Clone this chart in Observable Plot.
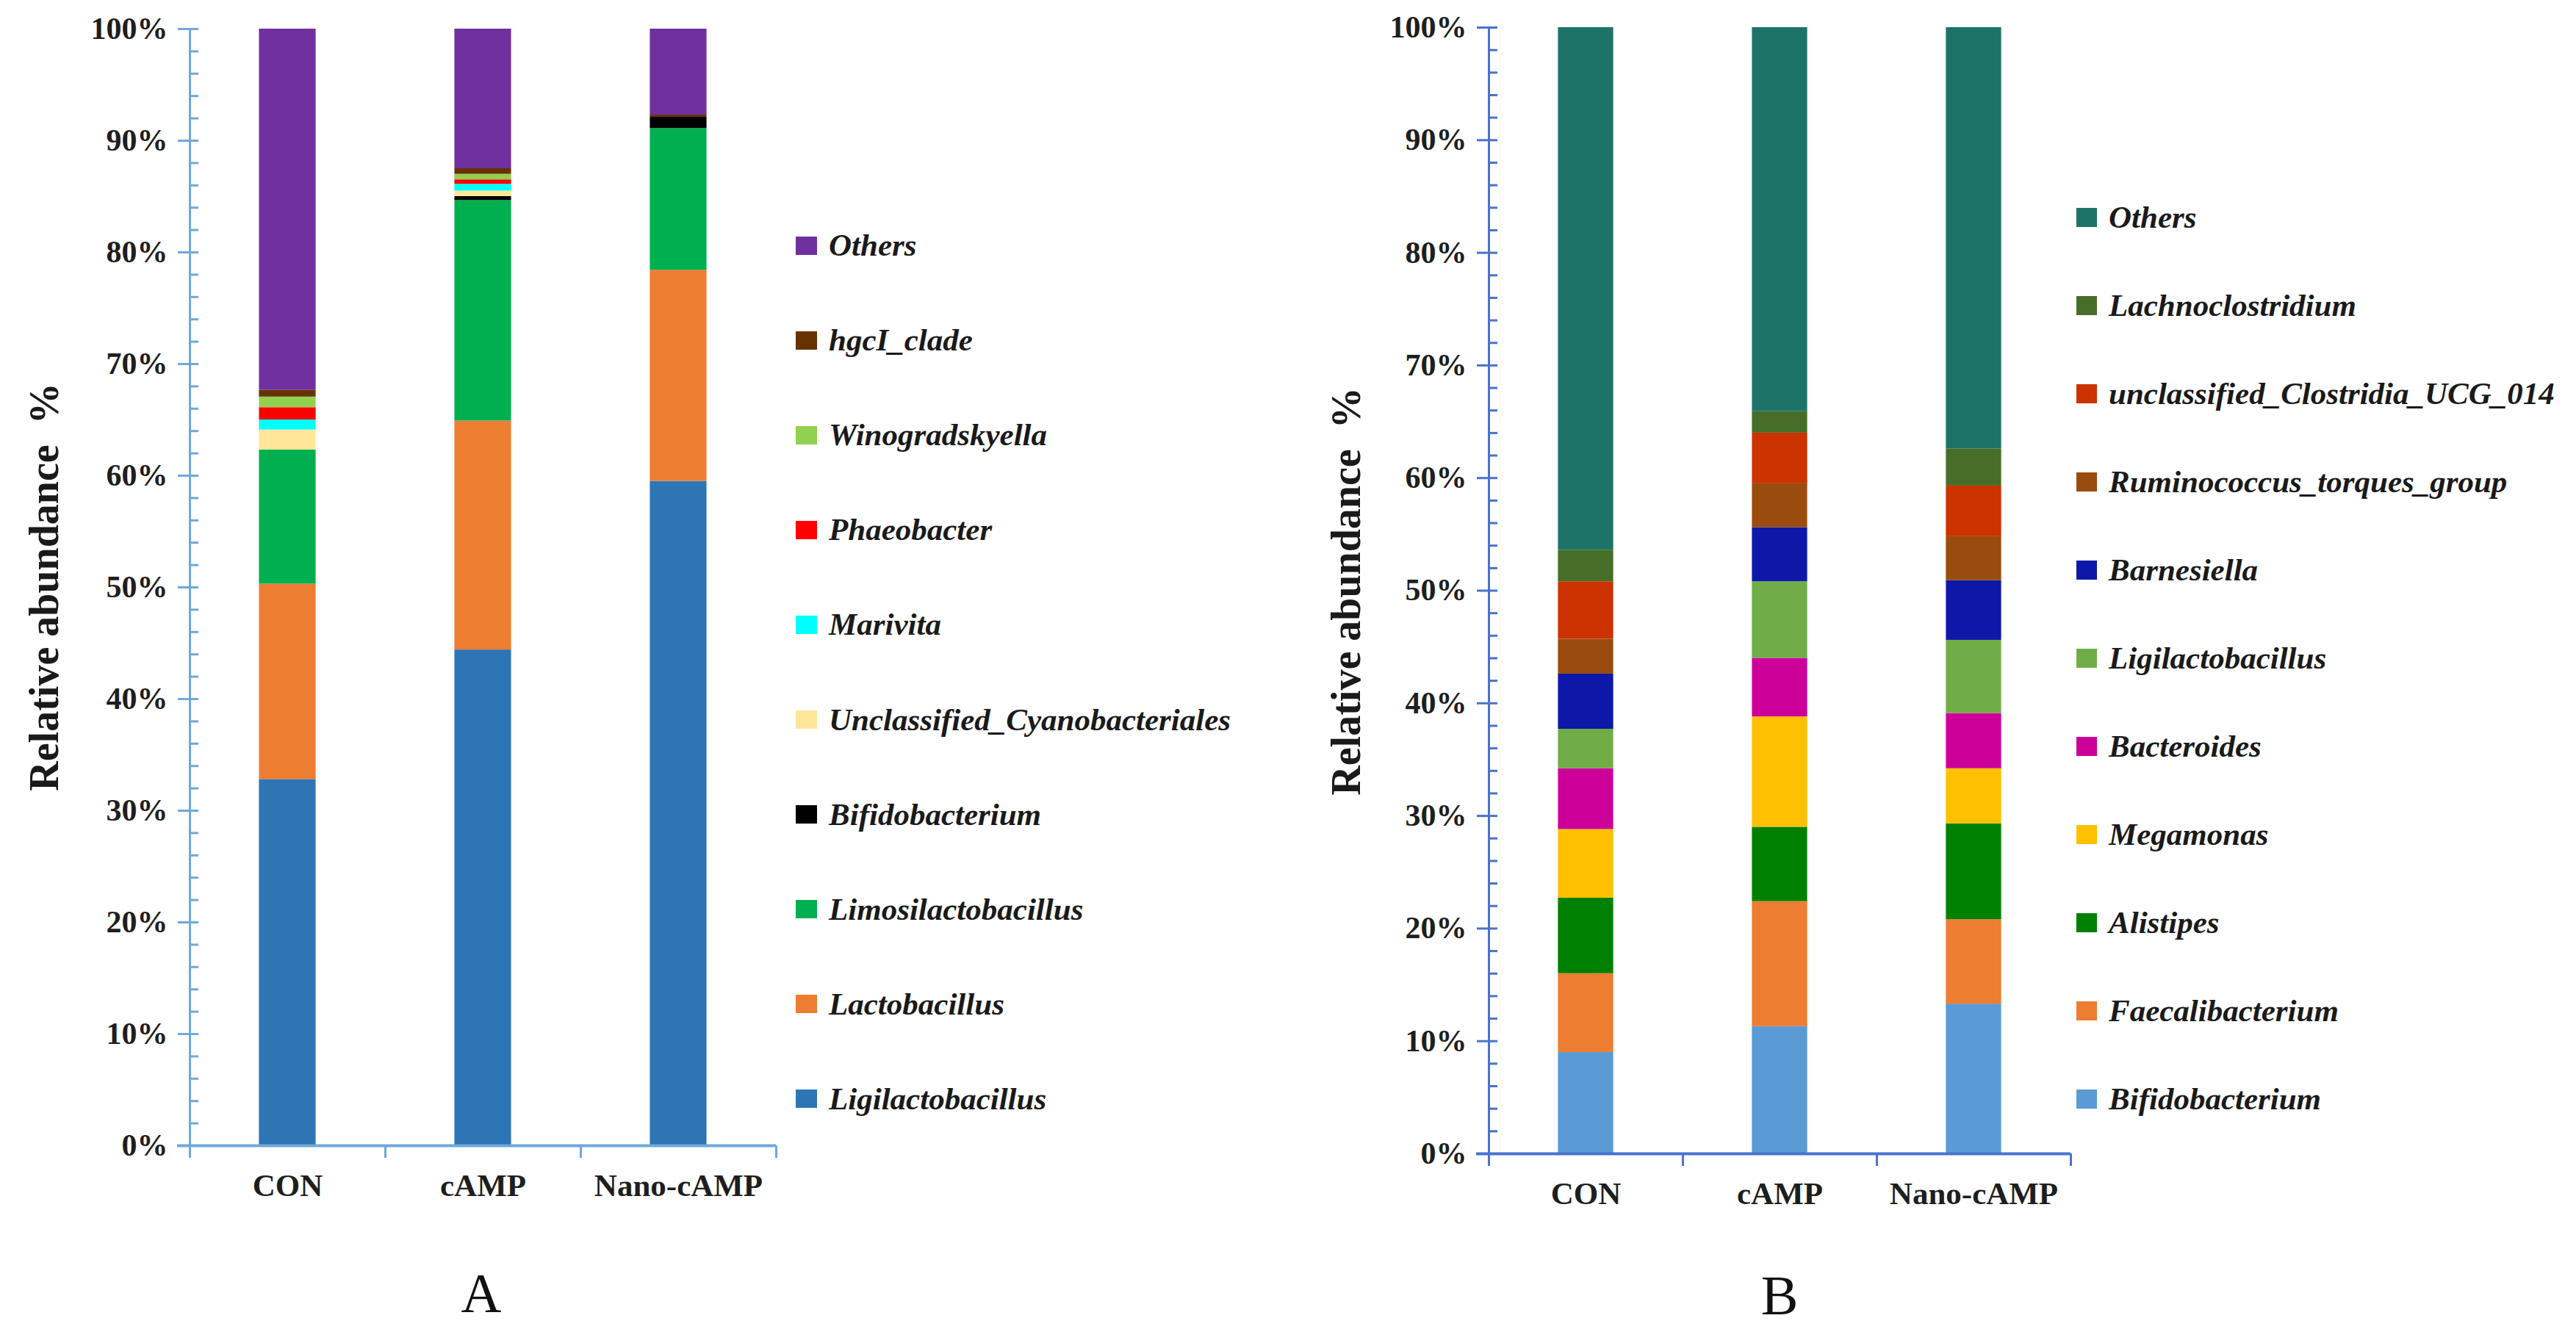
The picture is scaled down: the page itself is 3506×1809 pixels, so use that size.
<!DOCTYPE html>
<html>
<head>
<meta charset="utf-8">
<script src="https://cdn.jsdelivr.net/npm/d3@7"></script>
<script src="https://cdn.jsdelivr.net/npm/@observablehq/plot@0.6"></script>
<style>
  html, body { margin: 0; padding: 0; background: #fff; }
  body { width: 3506px; height: 1809px; position: relative; overflow: hidden; font-family: "Liberation Serif", "Times New Roman", serif; }
  .panel { position: absolute; top: 0; }
  .ytitle { position: absolute; transform: translate(-50%, -50%) rotate(-90deg); font-weight: bold; font-size: 56px; white-space: pre; color: #1a1a1a; }
  .item { position: absolute; display: flex; align-items: center; height: 60px; white-space: nowrap; }
  .item .sw { display: inline-block; }
  .item .lab { font-style: italic; font-weight: bold; font-size: 43px; color: #1a1a1a; line-height: 60px; }
  .letter { position: absolute; transform: translate(-50%, -50%); font-size: 76px; color: #111; }
</style>
</head>
<body>
<div id="A" class="panel" style="left:0px; width:1070px;"></div>
<div id="B" class="panel" style="left:1760px; width:1070px;"></div>
<script>
// ---------------- data ----------------
const groups = ["CON", "cAMP", "Nano-cAMP"];

// Panel A (stack order bottom -> top)
const generaA = ["Ligilactobacillus", "Lactobacillus", "Limosilactobacillus", "Bifidobacterium",
  "Unclassified_Cyanobacteriales", "Marivita", "Phaeobacter", "Winogradskyella", "hgcI_clade", "Others"];
const colorsA = ["#2E75B6", "#ED7D31", "#00B050", "#000000", "#FFE699", "#00FFFF", "#FF0000", "#92D050", "#663300", "#7030A0"];
const conA  = [32.8, 17.5, 12.0, 0.0, 1.8, 0.9, 1.1, 0.95, 0.6, 32.35];
const campA = [44.4, 20.5, 19.75, 0.35, 0.5, 0.6, 0.4, 0.5, 0.5, 12.5];
const nanoA = [59.5, 18.9, 12.7, 1.0, 0.0, 0.0, 0.0, 0.0, 0.2, 7.7];

// Panel B (stack order bottom -> top)
const generaB = ["Bifidobacterium", "Faecalibacterium", "Alistipes", "Megamonas", "Bacteroides",
  "Ligilactobacillus", "Barnesiella", "Ruminococcus_torques_group", "unclassified_Clostridia_UCG_014",
  "Lachnoclostridium", "Others"];
const colorsB = ["#5B9BD5", "#ED7D31", "#008000", "#FFC000", "#CC0099", "#70AD47", "#0E18A8", "#9A4B0E", "#CC3300", "#466E28", "#1E7369"];
const conB  = [9.0, 7.0, 6.7, 6.1, 5.4, 3.5, 4.9, 3.1, 5.1, 2.8, 46.4];
const campB = [11.3, 11.1, 6.6, 9.8, 5.2, 6.8, 4.8, 3.9, 4.5, 1.9, 34.1];
const nanoB = [13.3, 7.5, 8.5, 4.9, 4.9, 6.5, 5.3, 3.9, 4.5, 3.3, 37.4];

const majorTicks = [0, 10, 20, 30, 40, 50, 60, 70, 80, 90, 100];
const minorTicks = d3.range(0, 101, 2);
const yTitle = "Relative abundance  %";

// ---------------- helpers ----------------
function stackRows(genera, series) {
  const rows = [];
  series.forEach((vals, gi) => {
    let acc = 0;
    genera.forEach((g, k) => {
      rows.push({group: groups[gi], gi, genus: g, y1: acc, y2: acc + vals[k]});
      acc += vals[k];
    });
  });
  return rows;
}

function panel(o) {
  const half = o.barFrac / 2;
  return Plot.plot({
    width: o.width, height: o.height,
    marginLeft: o.marginLeft, marginRight: o.marginRight, marginTop: o.marginTop, marginBottom: o.marginBottom,
    style: {fontFamily: "'Liberation Serif', 'Times New Roman', serif", background: "transparent", overflow: "visible", maxWidth: "none"},
    x: {type: "linear", domain: [0, groups.length], axis: null, label: null},
    y: {domain: [0, 100], axis: null, label: null},
    color: {domain: o.genera, range: o.colors},
    marks: [
      Plot.rect(o.rows, {x1: d => d.gi + 0.5 - half, x2: d => d.gi + 0.5 + half, y1: "y1", y2: "y2", fill: "genus"}),
      Plot.ruleX([0], {stroke: o.axisColor, strokeWidth: 3, insetBottom: -17}),
      Plot.ruleY([0], {stroke: o.axisColor, strokeWidth: 4, insetLeft: -17}),
      Plot.axisY({ticks: minorTicks, tickSize: -12, stroke: o.axisColor, strokeWidth: 3, fill: "none", label: null}),
      Plot.axisY({ticks: majorTicks, tickSize: 16, stroke: o.axisColor, strokeWidth: 3, fill: "none", label: null}),
      Plot.axisY({ticks: majorTicks, tickSize: 0, tickPadding: 30, tickFormat: d => d + "%", fill: "#1e1e1e",
        fontSize: 42, fontWeight: "bold", label: null}),
      Plot.axisX({ticks: d3.range(1, groups.length + 1), tickSize: 17, stroke: o.axisColor, strokeWidth: 3, fill: "none", label: null}),
      Plot.axisX({ticks: groups.map((g, i) => i + 0.5), tickSize: 0, tickPadding: 38,
        tickFormat: v => groups[Math.floor(v)], fill: "#1e1e1e", fontSize: 43, fontWeight: "bold", label: null})
    ]
  });
}

function legend(genera, colors, o) {
  const items = genera.map((g, i) => ({g, c: colors[i]})).reverse();
  items.forEach((it, k) => {
    const cy = o.top + k * o.step;
    const div = document.createElement("div");
    div.className = "item";
    div.style.left = o.left + "px";
    div.style.top = (cy - 30) + "px";
    const sw = document.createElement("span");
    sw.className = "sw";
    sw.style.width = o.swW + "px";
    sw.style.height = o.swH + "px";
    sw.style.background = it.c;
    sw.style.marginRight = o.gap + "px";
    const lab = document.createElement("span");
    lab.className = "lab";
    lab.textContent = it.g;
    div.appendChild(sw);
    div.appendChild(lab);
    document.body.appendChild(div);
  });
}

function addText(cls, text, x, y) {
  const d = document.createElement("div");
  d.className = cls;
  d.textContent = text;
  d.style.left = x + "px";
  d.style.top = y + "px";
  document.body.appendChild(d);
}

// ---------------- panel A ----------------
document.getElementById("A").appendChild(panel({
  rows: stackRows(generaA, [conA, campA, nanoA]), genera: generaA, colors: colorsA,
  axisColor: "#6FA8DC", width: 1070, height: 1700,
  marginLeft: 258, marginRight: 14, marginTop: 39, marginBottom: 141, barFrac: 0.29
}));
legend(generaA, colorsA, {left: 1083, top: 334, step: 129.1, swW: 29, swH: 25, gap: 16});
addText("ytitle", yTitle, 60, 799);
addText("letter", "A", 655, 1760);

// ---------------- panel B ----------------
document.getElementById("B").appendChild(panel({
  rows: stackRows(generaB, [conB, campB, nanoB]), genera: generaB, colors: colorsB,
  axisColor: "#4A72D0", width: 1070, height: 1700,
  marginLeft: 266, marginRight: 12, marginTop: 37, marginBottom: 130, barFrac: 0.285
}));
legend(generaB, colorsB, {left: 2826, top: 296, step: 119.95, swW: 28, swH: 26, gap: 16});
addText("ytitle", yTitle, 1832, 805);
addText("letter", "B", 2422, 1763);
</script>
</body>
</html>
